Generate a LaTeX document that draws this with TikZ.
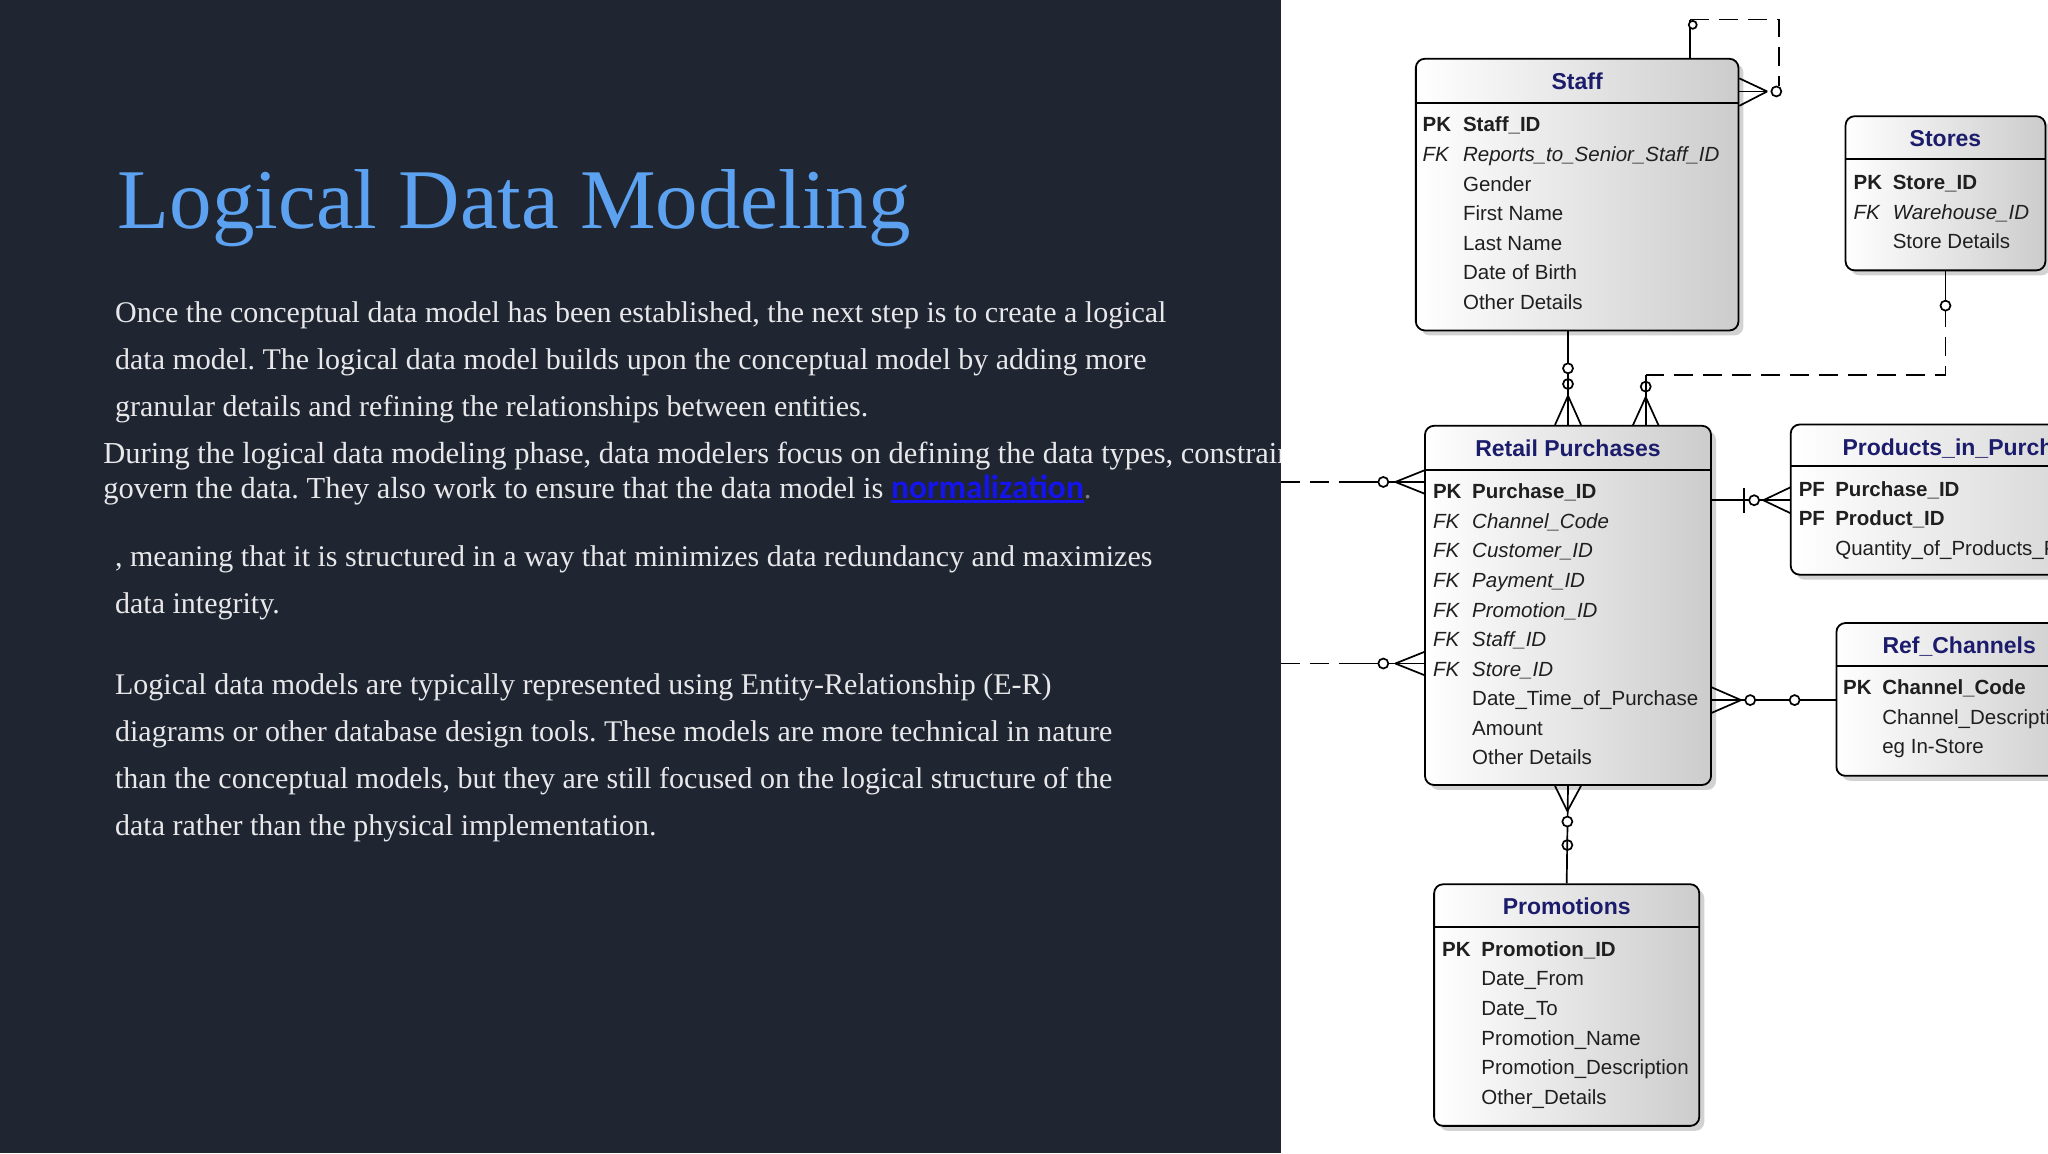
\documentclass[tikz,border=0pt]{standalone}
\usepackage{fontspec}
\setmainfont{Liberation Serif}
\newfontfamily\erfont{Liberation Sans}
\newfontfamily\linkfont{Carlito}
\usetikzlibrary{fit,shadows}

\definecolor{slidebg}{RGB}{31,37,49}
\definecolor{titleblue}{RGB}{92,162,240}
\definecolor{bodytext}{RGB}{232,232,234}
\definecolor{linkblue}{RGB}{20,20,235}
\definecolor{entnavy}{RGB}{28,28,108}
\frenchspacing
\newcommand{\linkul}[1]{\setbox0\hbox{#1}\rlap{\raisebox{-4pt}{\rule{\wd0}{2.6pt}}}\box0}

\begin{document}
\begin{tikzpicture}[x=1.30612pt, y=-1.30612pt,
  bodyline/.style={anchor=base west, inner sep=0pt, text=bodytext, font=\fontsize{30}{30}\selectfont},
  entity/.style={draw=black, line width=1.8pt, rounded corners=9pt, inner sep=0pt,
    left color=white, right color=black!20,
    drop shadow={shadow xshift=5pt, shadow yshift=-5pt, opacity=0.35}},
  enttitle/.style={anchor=base, inner sep=0pt, text=entnavy, font=\erfont\bfseries\fontsize{23}{23}\selectfont},
  rowtxt/.style={anchor=base west, inner sep=0pt, text=black!88, font=\erfont\fontsize{20.5}{20.5}\selectfont},
  pkrow/.style={font=\erfont\bfseries\fontsize{20.5}{20.5}\selectfont},
  fkrow/.style={font=\erfont\itshape\fontsize{20.5}{20.5}\selectfont},
  atrow/.style={},
  hdrline/.style={line width=2.2pt},
  erline/.style={line width=1.7pt},
  erdash/.style={dash pattern=on 19pt off 10pt}]

\useasboundingbox (0,0) rectangle (1568,883);
\fill[slidebg] (0,0) rectangle (1568,883);

% left side: title and text
\node[anchor=base west, inner sep=0pt, text=titleblue, font=\fontsize{85}{85}\selectfont] (title) at (90,175) {Logical Data Modeling};

\foreach \l [count=\i from 0] in {{Once the conceptual data model has been established, the next step is to create a logical},
  {data model. The logical data model builds upon the conceptual model by adding more},
  {granular details and refining the relationships between entities.}} {
\node[bodyline] (intro\i) at (88,247+36*\i) {\l};
}

\node[bodyline, font=\fontsize{30.5}{30.5}\selectfont] (phase0) at (79,355) {During the logical data modeling phase, data modelers focus on defining the data types, constraints and rules that};
\node[bodyline, font=\fontsize{30.5}{30.5}\selectfont] (phase1) at (79,382) {govern the data. They also work to ensure that the data model is \textcolor{linkblue}{\linkfont\bfseries\fontsize{33.5}{33.5}\selectfont\linkul{normalization}}\textcolor{black!45!bodytext}{.}};

\foreach \l [count=\i from 0] in {{, meaning that it is structured in a way that minimizes data redundancy and maximizes},
  {data integrity.}} {
\node[bodyline] (mean\i) at (88,434+36*\i) {\l};
}

\foreach \l [count=\i from 0] in {{Logical data models are typically represented using Entity-Relationship (E-R)},
  {diagrams or other database design tools. These models are more technical in nature},
  {than the conceptual models, but they are still focused on the logical structure of the},
  {data rather than the physical implementation.}} {
\node[bodyline] (repr\i) at (88,532+36*\i) {\l};
}

% right side: the E-R diagram
\fill[white] (981,0) rectangle (1568,883);

\node[entity, fit={(1084,45) (1331,253)}] (staff) {};
\node[entity, fit={(1413,89) (1566,207)}] (stores) {};
\node[entity, fit={(1091,326) (1310,601)}] (retail) {};
\node[entity, fit={(1371,325) (1651,440)}] (products) {};
\node[entity, fit={(1406,477) (1594,594)}] (channels) {};
\node[entity, fit={(1098,677) (1301,862)}] (promo) {};

\draw[hdrline] (staff.west |- 0,79) -- (staff.east |- 0,79);
\draw[hdrline] (stores.west |- 0,122) -- (stores.east |- 0,122);
\draw[hdrline] (retail.west |- 0,360) -- (retail.east |- 0,360);
\draw[hdrline] (products.west |- 0,357) -- (products.east |- 0,357);
\draw[hdrline] (channels.west |- 0,510) -- (channels.east |- 0,510);
\draw[hdrline] (promo.west |- 0,710) -- (promo.east |- 0,710);

\node[enttitle] (stafft) at (1207.5,68.5) {Staff};
\node[enttitle] (storest) at (1489.5,112.5) {Stores};
\node[enttitle] (retailt) at (1200.5,349.5) {Retail Purchases};
\node[enttitle] (productst) at (1511,348.5) {Products\_in\_Purchases};
\node[enttitle] (channelst) at (1500,500.5) {Ref\_Channels};
\node[enttitle] (promot) at (1199.5,700.5) {Promotions};

\foreach \k/\a/\s [count=\i from 0] in {PK/Staff\_ID/pkrow, FK/Reports\_to\_Senior\_Staff\_ID/fkrow,
  /Gender/atrow, /First Name/atrow, /Last Name/atrow, /Date of Birth/atrow, /Other Details/atrow} {
\node[rowtxt, \s] (staffk\i) at (1089,101+22.67*\i) {\k};
\node[rowtxt, \s] (staffa\i) at (1120,101+22.67*\i) {\a};
}
\foreach \k/\a/\s [count=\i from 0] in {PK/Store\_ID/pkrow, FK/Warehouse\_ID/fkrow, /Store Details/atrow} {
\node[rowtxt, \s] (storesk\i) at (1419,145+22.67*\i) {\k};
\node[rowtxt, \s] (storesa\i) at (1449,145+22.67*\i) {\a};
}
\foreach \k/\a/\s [count=\i from 0] in {PK/Purchase\_ID/pkrow, FK/Channel\_Code/fkrow, FK/Customer\_ID/fkrow,
  FK/Payment\_ID/fkrow, FK/Promotion\_ID/fkrow, FK/Staff\_ID/fkrow, FK/Store\_ID/fkrow,
  /Date\_Time\_of\_Purchase/atrow, /Amount/atrow, /Other Details/atrow} {
\node[rowtxt, \s] (retailk\i) at (1097,382+22.6*\i) {\k};
\node[rowtxt, \s] (retaila\i) at (1127,382+22.6*\i) {\a};
}
\foreach \k/\a/\s [count=\i from 0] in {PF/Purchase\_ID/pkrow, PF/Product\_ID/pkrow, /Quantity\_of\_Products\_Purchased/atrow} {
\node[rowtxt, \s] (productsk\i) at (1377,380+22.5*\i) {\k};
\node[rowtxt, \s] (productsa\i) at (1405,380+22.5*\i) {\a};
}
\foreach \k/\a/\s [count=\i from 0] in {PK/Channel\_Code/pkrow, /Channel\_Description/atrow, /eg In-Store/atrow} {
\node[rowtxt, \s] (channelsk\i) at (1411,532+22.5*\i) {\k};
\node[rowtxt, \s] (channelsa\i) at (1441,532+22.5*\i) {\a};
}
\foreach \k/\a/\s [count=\i from 0] in {PK/Promotion\_ID/pkrow, /Date\_From/atrow, /Date\_To/atrow,
  /Promotion\_Name/atrow, /Promotion\_Description/atrow, /Other\_Details/atrow} {
\node[rowtxt, \s] (promok\i) at (1104,732+22.7*\i) {\k};
\node[rowtxt, \s] (promoa\i) at (1134,732+22.7*\i) {\a};
}

% staff reports to staff
\coordinate (selftop) at (1294,15);
\coordinate (selfcorner) at (1362,15);
\draw[erline] (selftop |- staff.north) -- (selftop);
\draw[erline, erdash] (selftop) -- (selfcorner) -- (1362,66);
\draw[erline] (1353,70) -- (staff.east |- 0,60);
\draw[erline] (1353,70) -- (staff.east |- 0,70);
\draw[erline] (1353,70) -- (staff.east |- 0,81);
\draw[erline, fill=white] (1360,70) circle (5pt);
\draw[erline, fill=white] (1296,19) circle (4pt);

% staff -- retail purchases
\draw[erline] (retail.north |- staff.south) -- (retail.north);
\draw[erline] (1200.5,303) -- ([xshift=-13pt]retail.north);
\draw[erline] (1200.5,303) -- ([xshift=13pt]retail.north);
\draw[erline, fill=white] (1200.5,282) circle (5pt);
\draw[erline] (1200.5,294) circle (5pt);

% stores -- retail purchases
\coordinate (storeturn) at (stores.south |- 0,287);
\coordinate (retailturn) at (1260,287);
\draw[erline] (stores.south) -- (storeturn |- 0,232);
\draw[erline, erdash] (storeturn |- 0,236) -- (storeturn) -- (retailturn);
\draw[erline] (retailturn) -- (retailturn |- retail.north);
\draw[erline] (1260,304) -- (1250,326);
\draw[erline] (1260,304) -- (1270,326);
\draw[erline, fill=white] (stores.south |- 0,234) circle (5pt);
\draw[erline] (1260,296) circle (5pt);

% links coming from the left
\coordinate (leftin1) at (981,369);
\coordinate (leftin2) at (981,508);
\foreach \c in {leftin1, leftin2} {
\draw[erline, erdash] (\c) -- ([xshift=72pt]\c);
\draw[erline] ([xshift=72pt]\c) -- (retail.west |- \c);
\draw[erline] ([xshift=114pt]\c) -- ([xshift=144pt, yshift=12pt]\c);
\draw[erline] ([xshift=114pt]\c) -- ([xshift=144pt, yshift=-12pt]\c);
\draw[erline, fill=white] ([xshift=102pt]\c) circle (5pt);
}

% retail purchases -- products in purchases
\draw[erline] (retail.east |- 0,383) -- (products.west |- 0,383);
\draw[erline] (1335,374) -- (1335,393);
\draw[erline] (1350,383) -- (1371,373);
\draw[erline] (1350,383) -- (1371,393);
\draw[erline, fill=white] (1343,383) circle (5pt);

% retail purchases -- ref channels
\draw[erline] (retail.east |- 0,536) -- (channels.west |- 0,536);
\draw[erline] (1333,536) -- (1310,526);
\draw[erline] (1333,536) -- (1310,546);
\draw[erline, fill=white] (1340,536) circle (5pt);
\draw[erline, fill=white] (1374,536) circle (5pt);

% retail purchases -- promotions
\draw[erline] (retail.south) -- (promo.north);
\draw[erline] (1200,621) -- ([xshift=-13pt]retail.south);
\draw[erline] (1200,621) -- ([xshift=13pt]retail.south);
\draw[erline, fill=white] (1200,629) circle (5pt);
\draw[erline] (1200,647) circle (5pt);

\end{tikzpicture}
\end{document}
